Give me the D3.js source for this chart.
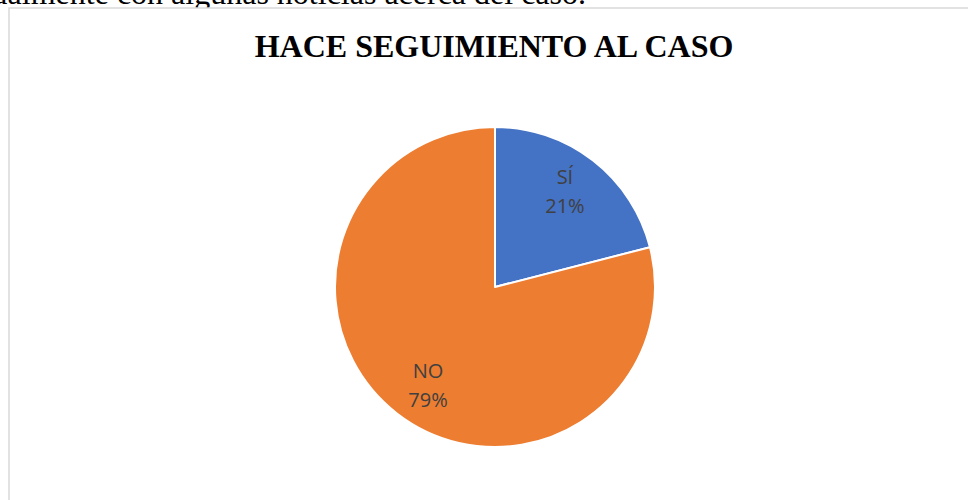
<!DOCTYPE html>
<html>
<head>
<meta charset="utf-8">
<script src="https://cdn.jsdelivr.net/npm/d3@7"></script>
<style>
  body { margin: 0; background: #fff; }
  svg { display: block; }
</style>
</head>
<body>
<div id="chart"></div>
<script>
// data
var categories = ["SÍ", "NO"];
var values = [21, 79];
var colors = ["#4472c4", "#ed7d31"];
var title = "HACE SEGUIMIENTO AL CASO";
var pageText = "actualmente con algunas noticias acerca del caso.";

var width = 968, height = 500;
var cx = 495, cy = 287, radius = 160;

var svg = d3.select("#chart").append("svg")
    .attr("width", width)
    .attr("height", height);

// bit of the document text above the chart box (the box covers its lower part)
svg.append("text")
    .attr("x", 586)
    .attr("y", 4)
    .attr("text-anchor", "end")
    .style("font-family", "'Liberation Serif', 'Times New Roman', serif")
    .style("font-size", "32px")
    .attr("fill", "#000")
    .text(pageText);

// chart area border
svg.append("rect")
    .attr("x", 9)
    .attr("y", 8)
    .attr("width", 1000)
    .attr("height", 600)
    .attr("fill", "#fff")
    .attr("stroke", "#d9d9d9")
    .attr("stroke-width", 1.5);

svg.append("text")
    .attr("x", 494)
    .attr("y", 57)
    .attr("text-anchor", "middle")
    .style("font-family", "'Liberation Serif', 'Times New Roman', serif")
    .style("font-weight", "bold")
    .style("font-size", "32px")
    .attr("fill", "#000")
    .text(title);

var data = categories.map(function(c, i) { return {label: c, value: values[i], color: colors[i]}; });
var total = d3.sum(values);

var pie = d3.pie()
    .sort(null)
    .value(function(d) { return d.value; });

var arc = d3.arc()
    .innerRadius(0)
    .outerRadius(radius);

var labelArc = d3.arc()
    .innerRadius(119)
    .outerRadius(119);

var g = svg.append("g")
    .attr("transform", "translate(" + cx + "," + cy + ")");

var arcs = pie(data);

g.selectAll("path")
    .data(arcs)
    .enter().append("path")
    .attr("d", arc)
    .attr("fill", function(d) { return d.data.color; })
    .attr("stroke", "#fff")
    .attr("stroke-width", 2)
    .attr("stroke-linejoin", "round");

// small nudges so the labels sit where the reference has them
var nudge = [[-3, -9], [6, -3]];

var labels = g.selectAll("text.lbl")
    .data(arcs)
    .enter().append("text")
    .attr("class", "lbl")
    .attr("text-anchor", "middle")
    .attr("transform", function(d, i) {
        var c = labelArc.centroid(d);
        return "translate(" + (c[0] + nudge[i][0]) + "," + (c[1] + nudge[i][1]) + ")";
    })
    .style("font-family", "'Open Sans', 'Noto Sans', sans-serif")
    .style("font-size", "20px")
    .attr("fill", "#404040");

labels.append("tspan")
    .attr("x", 0)
    .attr("dy", 0)
    .text(function(d) { return d.data.label; });

labels.append("tspan")
    .attr("x", 0)
    .attr("dy", 29)
    .text(function(d) { return Math.round(d.data.value / total * 100) + "%"; });
</script>
</body>
</html>
